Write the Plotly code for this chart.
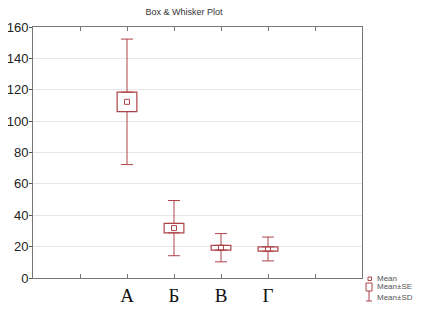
import plotly.graph_objects as go

categories = ["А", "Б", "В", "Г"]
means = [112.3, 31.8, 19.3, 18.5]
se = [6.2, 3.0, 1.5, 1.4]
sd = [40.0, 17.6, 9.0, 7.6]
yticks = [0, 20, 40, 60, 80, 100, 120, 140, 160]
legend_labels = ["Mean", "Mean±SE", "Mean±SD"]

pos = [i + 2 for i in range(len(categories))]
red = "#ad4448"

# page body has an 8px margin; figure fills the rest of the 423x324 window
W, H = 415, 316
PL, PT, PR, PB = 33, 27, 362, 278  # plot area in window pixels

fig = go.Figure()

# SE boxes
fig.add_trace(go.Bar(
    x=pos, y=[2 * s for s in se], base=[m - s for m, s in zip(means, se)],
    width=0.42, marker=dict(color="white", line=dict(color=red, width=1.2)),
    name="Mean±SE", showlegend=False, hoverinfo="skip"))

# SD whiskers (upper and lower)
fig.add_trace(go.Scatter(
    x=pos, y=[m + s for m, s in zip(means, se)], mode="markers",
    marker=dict(size=1, color=red, opacity=0),
    error_y=dict(type="data", symmetric=False,
                 array=[d - s for d, s in zip(sd, se)], arrayminus=[0] * 4,
                 color=red, thickness=1, width=6),
    showlegend=False))
fig.add_trace(go.Scatter(
    x=pos, y=[m - s for m, s in zip(means, se)], mode="markers",
    marker=dict(size=1, color=red, opacity=0),
    error_y=dict(type="data", symmetric=False,
                 array=[0] * 4, arrayminus=[d - s for d, s in zip(sd, se)],
                 color=red, thickness=1, width=6),
    showlegend=False))

# Means
fig.add_trace(go.Scatter(
    x=pos, y=means, mode="markers",
    marker=dict(symbol="square-open", size=5, color=red, line=dict(width=1)),
    showlegend=False))

# Manual legend (bottom right, outside plot); paper coords relative to plot area
def px(x):
    return (x - PL) / (PR - PL)

def py(y):
    return (PB - y) / (PB - PT)

shapes = [
    dict(type="rect", xref="paper", yref="paper", x0=px(368), x1=px(371.5), y0=py(280.5), y1=py(277),
         line=dict(color=red, width=1)),
    dict(type="line", xref="paper", yref="paper", x0=px(369), x1=px(369), y0=py(291), y1=py(301),
         line=dict(color=red, width=1)),
    dict(type="line", xref="paper", yref="paper", x0=px(366), x1=px(372), y0=py(301), y1=py(301),
         line=dict(color=red, width=1)),
    dict(type="rect", xref="paper", yref="paper", x0=px(366), x1=px(372), y0=py(291), y1=py(283),
         line=dict(color=red, width=1), fillcolor="white"),
]
legend_y = [278.5, 286.5, 297]
annotations = []
for lab, ly in zip(legend_labels, legend_y):
    annotations.append(dict(text=lab, xref="paper", yref="paper", x=px(375), y=py(ly),
                            xanchor="left", yanchor="middle", showarrow=False,
                            font=dict(family="Liberation Sans, Arial", size=8, color="#555")))

fig.update_layout(
    width=W, height=H,
    margin=dict(l=PL - 8, r=W + 8 - PR, t=PT - 8, b=H + 8 - PB, autoexpand=False),
    paper_bgcolor="white", plot_bgcolor="white",
    title=dict(text="Box & Whisker Plot", x=(184 - 8) / W, xanchor="center",
               y=1 - (12 - 8) / H, yanchor="middle",
               font=dict(family="Liberation Sans, Arial", size=9, color="#333")),
    showlegend=False,
    shapes=shapes, annotations=annotations,
    xaxis=dict(range=[0, 7], tickvals=[1] + pos + [6], ticktext=[""] + categories + [""],
               ticks="inside", ticklen=4, tickcolor="#777", mirror="allticks", automargin=False,
               showline=True, linecolor="#777", linewidth=1, showgrid=False, zeroline=False,
               tickfont=dict(family="Liberation Serif, Times New Roman", size=19, color="#111")),
    yaxis=dict(range=[0, 160], tickvals=yticks, ticks="outside", ticklen=3, tickcolor="#555",
               showline=True, linecolor="#777", linewidth=1, mirror=True, automargin=False,
               ticklabelstandoff=-2,
               showgrid=True, gridcolor="#e6e6e6", gridwidth=1, zeroline=False,
               tickfont=dict(family="Liberation Sans, Arial", size=13, color="#222")),
)

fig.write_html("out.html")
